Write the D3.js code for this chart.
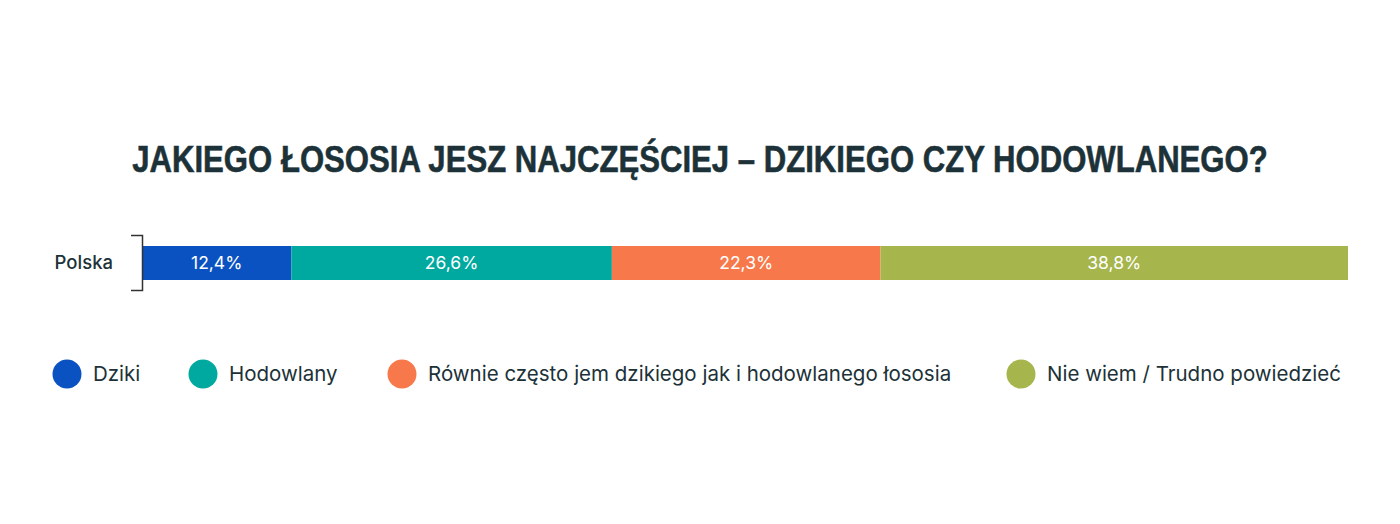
<!DOCTYPE html>
<html><head><meta charset="utf-8">
<script src="https://cdn.jsdelivr.net/npm/d3@7"></script>
<style>body{margin:0;background:#fff}</style>
</head><body>
<svg id="c" width="1400" height="524"></svg>
<script>
const title = "JAKIEGO ŁOSOSIA JESZ NAJCZĘŚCIEJ – DZIKIEGO CZY HODOWLANEGO?";
const categories = ["Polska"];
const seriesNames = ["Dziki", "Hodowlany", "Równie często jem dzikiego jak i hodowlanego łososia", "Nie wiem / Trudno powiedzieć"];
const values = [12.4, 26.6, 22.3, 38.8];
const valueLabels = ["12,4%", "26,6%", "22,3%", "38,8%"];
const colors = ["#0a52c2", "#00a99f", "#f7794b", "#a6b64d"];

const svg = d3.select("#c");
const dark = "#1c3238";

const tg = svg.append("g");
const t = tg.append("text").attr("x", 0).attr("y", 0).attr("text-anchor", "middle")
  .attr("font-family", "'Liberation Sans', Arial, sans-serif")
  .attr("font-weight", 700).attr("font-size", 37).attr("fill", dark)
  .attr("stroke", dark).attr("stroke-width", 0.6)
  .text(title);
const natural = t.node().getComputedTextLength();
tg.attr("transform", `translate(700,172) scale(${1136 / natural},1)`);

const total = d3.sum(values);
const x = d3.scaleLinear().domain([0, total]).range([142, 1348]);
const y = d3.scaleBand().domain(categories).range([235, 291]).paddingInner(0).paddingOuter(0.2);

let cum = 0;
const segs = values.map((v, i) => { const s = {v, i, x0: cum, x1: cum + v}; cum += v; return s; });

const g = svg.append("g");
g.selectAll("rect").data(segs).join("rect")
  .attr("x", d => x(d.x0)).attr("width", d => x(d.x1) - x(d.x0))
  .attr("y", 246).attr("height", 34)
  .attr("fill", d => colors[d.i]);
g.selectAll("text.v").data(segs).join("text").attr("class", "v")
  .attr("x", d => (x(d.x0) + x(d.x1)) / 2).attr("y", 263).attr("dy", "0.36em")
  .attr("text-anchor", "middle").attr("fill", "#fff")
  .attr("font-family", "Inter, 'Noto Sans', sans-serif").attr("font-size", 17.5).attr("font-weight", 400)
  .text(d => valueLabels[d.i]);

// bracket axis
const yAxis = d3.axisLeft(y).tickSize(0).tickPadding(0);
const ag = svg.append("g").attr("transform", "translate(142,0)").call(yAxis);
ag.select(".domain").remove();
ag.selectAll("text").attr("x", -29).attr("font-family", "Inter, 'Noto Sans', sans-serif")
  .attr("font-size", 18.5).attr("font-weight", 500).attr("fill", dark);
svg.append("path").attr("d", "M131,235.5H142.5V290.5H131").attr("fill", "none")
  .attr("stroke", "#333").attr("stroke-width", 1.5);

// legend
const legX = [67, 203, 402, 1021];
const lg = svg.append("g").selectAll("g").data(seriesNames).join("g")
  .attr("transform", (d, i) => `translate(${legX[i]},374)`);
lg.append("circle").attr("r", 14.5).attr("fill", (d, i) => colors[i]);
lg.append("text").attr("x", 26).attr("dy", "0.35em")
  .attr("font-family", "Inter, 'Noto Sans', sans-serif").attr("font-size", 20.5)
  .attr("fill", dark).text(d => d);
</script>
</body></html>
